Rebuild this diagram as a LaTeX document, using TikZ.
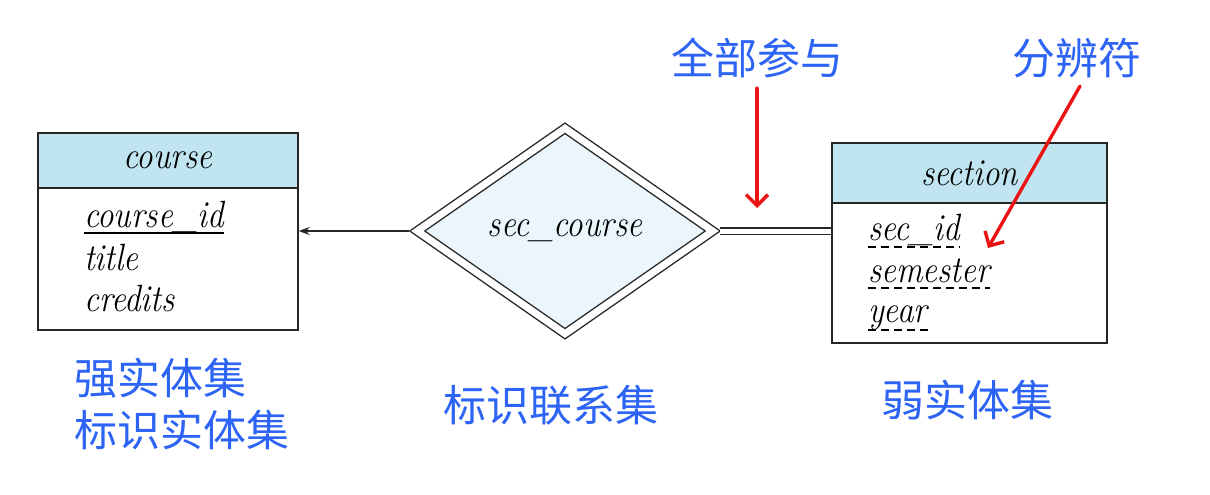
\documentclass[tikz,border=0pt]{standalone}
\usepackage{fontspec}
\usepackage{graphicx}
\newfontfamily\cjk{Noto Sans CJK SC}
\usetikzlibrary{arrows.meta,shapes.geometric}
\definecolor{hdr}{RGB}{193,229,240}
\definecolor{relfill}{RGB}{234,246,251}
\definecolor{lblue}{RGB}{45,100,245}
\definecolor{ared}{RGB}{235,20,20}
\newcommand\nrw[1]{\scalebox{0.87}[1]{#1}}
\begin{document}
\begin{tikzpicture}[x=1pt,y=-1pt,
  every node/.style={inner sep=0pt},
  hdrbox/.style={draw=black!85,line width=1.4pt,fill=hdr,font=\fontsize{38}{38}\selectfont\itshape},
  bodybox/.style={draw=black!85,line width=1.4pt,fill=white},
  attr/.style={anchor=base west,font=\fontsize{38}{38}\selectfont\itshape},
  pkline/.style={line width=1.3pt},
  dkline/.style={line width=1.3pt,dash pattern=on 8pt off 5pt},
  cnlabel/.style={text=lblue,font=\cjk\fontsize{43}{52}\selectfont,align=left},
  notearrow/.style={draw=ared,line width=3.4pt,line cap=round,-{Straight Barb[length=11pt,width=22pt,line width=3.4pt]}},
  relshape/.style={diamond,draw=black!85,line width=1.4pt,double=white,double distance=7pt,fill=relfill,
    minimum width=296pt,minimum height=206pt,font=\fontsize{38}{38}\selectfont\itshape},
  link/.style={draw=black!85,line width=1.3pt}
]
\useasboundingbox (0,0) rectangle (1210,495);
\fill[white] (0,0) rectangle (1210,495);

% strong entity course
\node[hdrbox,minimum width=260pt,minimum height=55pt] (chead) at (168,160.5) {\nrw{course}};
\node[bodybox,minimum width=260pt,minimum height=142pt] (cbody) at (168,259) {};
\node[attr] (cid) at (84,227) {\nrw{course\_id}};
\node[attr] (ctitle) at (84,270) {\nrw{title}};
\node[attr] (ccred) at (84,311) {\nrw{credits}};
\draw[pkline] ([yshift=-6pt]cid.base west) -- ([yshift=-6pt]cid.base east);

% weak entity section
\node[hdrbox,minimum width=275pt,minimum height=60pt] (shead) at (969.5,173) {\nrw{section}};
\node[bodybox,minimum width=275pt,minimum height=140pt] (sbody) at (969.5,273) {};
\node[attr] (sid) at (868,240) {\nrw{sec\_id}};
\node[attr] (ssem) at (868,282) {\nrw{semester}};
\node[attr] (syear) at (868,322) {\nrw{year}};
\draw[dkline] ([yshift=-7pt]sid.base west) -- ([yshift=-7pt]sid.base east);
\draw[dkline] ([yshift=-6pt]ssem.base west) -- ([yshift=-6pt]ssem.base east);
\draw[dkline] ([yshift=-8pt]syear.base west) -- ([yshift=-8pt]syear.base east);

% identifying relationship
\node[relshape] (rel) at (565,231) {\nrw{sec\_course}};

% connectors
\draw[link,-{Stealth[length=11pt,width=8pt]}] ([xshift=-7pt]rel.west) -- (rel.west -| cbody.east);
\draw[link,double=white,double distance=5pt] ([xshift=6pt]rel.east) -- (rel.east -| sbody.west);

% annotations
\node[cnlabel] (lblA) at (757,58) {全部参与};
\node[cnlabel] (lblB) at (1077,58) {分辨符};
\coordinate (tipA) at (757,208);
\coordinate (tipB) at (988,248);
\draw[notearrow] ([yshift=-10pt]lblA.south) -- (tipA);
\draw[notearrow] ([xshift=3pt,yshift=-8pt]lblB.south) -- (tipB);

\node[cnlabel] (lblStrong) at (181.5,404) {强实体集\\标识实体集};
\node[cnlabel] (lblRel) at (551,405) {标识联系集};
\node[cnlabel] (lblWeak) at (967,400) {弱实体集};
\end{tikzpicture}
\end{document}
